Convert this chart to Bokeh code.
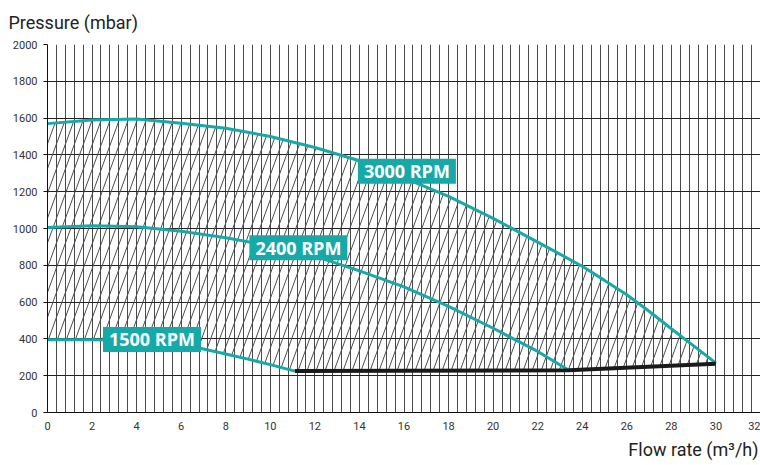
import numpy as np
from bokeh.plotting import figure
from bokeh.models import Range1d, FixedTicker, Title
from bokeh.embed import file_html
from bokeh.resources import INLINE
from bokeh.core.properties import value

# ---- data ----
rpm3000_x = [0, 2, 4, 6, 8, 10, 12, 14, 16, 18, 20, 22, 24, 25, 26, 27, 28, 29, 30]
rpm3000_p = [1570, 1590, 1595, 1572, 1545, 1500, 1440, 1368, 1275, 1175, 1055, 926, 795, 718, 640, 550, 455, 362, 268]
rpm2400_x = [0, 2, 4, 6, 8, 10, 12, 14, 16, 18, 20, 22, 23.4]
rpm2400_p = [1005, 1015, 1010, 985, 950, 905, 850, 770, 683, 577, 458, 332, 230]
rpm1500_x = [0, 2, 4, 5, 6, 7, 8, 9, 10, 11.1]
rpm1500_p = [395, 395, 393, 385, 370, 345, 318, 290, 260, 225]
limit_x = [11.1, 23.4, 30]
limit_p = [225, 230, 265]

label_texts = ["3000 RPM", "2400 RPM", "1500 RPM"]
x_ticks_major = list(range(0, 33, 2))
y_ticks_major = list(range(0, 2001, 200))

TEAL = "#17a9a8"

p = figure(width=760, height=465, output_backend="svg", toolbar_location=None,
           x_range=Range1d(0, 32), y_range=Range1d(0, 2000),
           min_border_left=47, min_border_right=0, min_border_top=44, min_border_bottom=53)
p.outline_line_color = None
p.background_fill_color = "white"
p.border_fill_color = "white"

# grid
p.xgrid.ticker = FixedTicker(ticks=[round(0.4 * i, 2) for i in range(0, 81)])
p.xgrid.grid_line_color = "#4a4a4a"
p.xgrid.grid_line_width = 1
p.ygrid.ticker = FixedTicker(ticks=y_ticks_major)
p.ygrid.grid_line_color = "#222222"
p.ygrid.grid_line_width = 1

# axes
p.xaxis.ticker = FixedTicker(ticks=x_ticks_major)
p.yaxis.ticker = FixedTicker(ticks=y_ticks_major)
for ax in (p.xaxis, p.yaxis):
    ax.axis_line_color = "#111111"
    ax.axis_line_width = 1
    ax.major_tick_line_color = "#111111"
    ax.minor_tick_line_color = None
    ax.major_tick_in = 0
    ax.major_label_text_font = "Roboto"
    ax.major_label_text_font_size = "11px"
    ax.major_label_text_color = "#333333"
p.yaxis.major_tick_out = 4
p.yaxis.major_label_standoff = 6
p.xaxis.major_tick_out = 0
p.xaxis.major_label_standoff = 9

# hatch lines inside the operating region (between 3000 RPM curve and lower bound)
bot_x = rpm1500_x + limit_x[1:]
bot_p = rpm1500_p + limit_p[1:]
slope = 333.0      # mbar per m3/h along a hatch line
spacing = 0.404    # m3/h between hatch lines
P = np.linspace(0, 1700, 3401)
hx, hy = [], []
for x0 in np.arange(-6.0, 30.5, spacing):
    X = x0 + P / slope
    inside = (X >= 0) & (X <= 30) & (P >= np.interp(X, bot_x, bot_p)) & (P <= np.interp(X, rpm3000_x, rpm3000_p))
    idx = np.where(inside)[0]
    if len(idx) == 0:
        continue
    runs = np.split(idx, np.where(np.diff(idx) != 1)[0] + 1)
    for r in runs:
        if len(r) < 2:
            continue
        hx.append([float(X[r[0]]), float(X[r[-1]])])
        hy.append([float(P[r[0]]), float(P[r[-1]])])
p.multi_line(hx, hy, line_color="#4d4d4d", line_width=1)

# curves
p.line(rpm3000_x, rpm3000_p, line_color=TEAL, line_width=3)
p.line(rpm2400_x, rpm2400_p, line_color=TEAL, line_width=3)
p.line(rpm1500_x, rpm1500_p, line_color=TEAL, line_width=3)
p.line(limit_x, limit_p, line_color="#1a1a1a", line_width=4)

# RPM labels
lab_x = [16.13, 11.26, 4.69]
lab_y = [1311, 896, 397]
p.rect(lab_x, lab_y, width=98, height=25, width_units="screen", height_units="screen",
       fill_color=TEAL, line_color=None)
p.text(lab_x, lab_y, text=label_texts, text_align="center", text_baseline="middle",
       text_font=value("Open Sans"), text_font_style="bold", text_font_size="18px",
       text_color="white")

# axis titles
p.add_layout(Title(text="Pressure (mbar)", align="left", offset=-39, text_font="Roboto",
                   text_font_size="18px", text_font_style="normal", text_color="#222222",
                   vertical_align="top", standoff=20), "above")
p.add_layout(Title(text="Flow rate (m³/h)", align="right", offset=2, text_font="Roboto",
                   text_font_size="18px", text_font_style="normal", text_color="#222222",
                   vertical_align="bottom", standoff=8), "below")

open("out.html", "w").write(file_html(p, INLINE))
